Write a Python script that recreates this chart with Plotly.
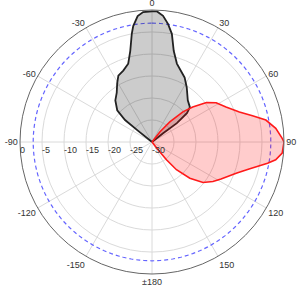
import plotly.graph_objects as go

# Black pattern (main lobe toward 0 deg)
black_theta = [-52, -51.3, -50.8, -47.6, -41.4, -35.5, -30.7, -26.9, -21.9, -16.9, -13.4,
               -10.6, -9.2, -6.5, -3.9, 0, 2.2, 5.0, 7.7, 10.4, 13.4, 17.6, 23.2, 26.9,
               32.5, 40.6, 47.4, 50.4, 52.8, 52.0, 51.0]
black_r = [-30, -25.7, -22.1, -19.3, -17.4, -16.2, -14.5, -13.1, -12.5, -11.4, -8.7,
           -5.0, -3.3, -1.2, -0.4, -0.3, -0.3, -1.2, -2.9, -5.0, -8.7, -11.3, -12.8, -13.6,
           -15.3, -17.5, -18.3, -19.7, -22.9, -26.8, -30]

# Red pattern (main lobe toward 90 deg)
red_theta = [35, 37.8, 41.6, 45.7, 49.3, 54.0, 58.5, 64.7, 71.0, 75.4, 79.1, 83.7, 88.4,
             90, 94.9, 98.2, 100.4, 105.6, 110.3, 118.2, 122.9, 128.4, 133.7, 138.6,
             140.8, 141.8, 143]
red_r = [-30, -27.1, -23.9, -20.2, -17.8, -14.7, -12.9, -11.4, -9.0, -6.4, -3.65, -1.7, -0.4,
         0, -0.3, -1.6, -3.3, -7.1, -9.6, -12.2, -13.5, -15.2, -18.1, -21.6,
         -24.8, -27.7, -30]

# -3 dB reference circle
ref_theta = list(range(0, 361, 2))
ref_level = -3

angle_ticks = [0, 30, 60, 90, 120, 150, 180, 210, 240, 270, 300, 330]
angle_labels = ["0", "30", "60", "90", "120", "150", "±180", "-150", "-120", "-90", "-60", "-30"]
radial_ticks = [-30, -25, -20, -15, -10, -5, 0]
radial_labels = ["-30", "-25", "-20", "-15", "-10", "-5", "0"]

fig = go.Figure()
fig.add_trace(go.Scatterpolar(
    theta=ref_theta, r=[ref_level] * len(ref_theta), mode="lines",
    line=dict(color="#6464ff", width=1.2, dash="4px,3px"), hoverinfo="skip"))
fig.add_trace(go.Scatterpolar(
    theta=black_theta, r=black_r, mode="lines", fill="toself",
    fillcolor="rgba(0,0,0,0.2)", line=dict(color="#222222", width=1.8)))
fig.add_trace(go.Scatterpolar(
    theta=red_theta, r=red_r, mode="lines", fill="toself",
    fillcolor="rgba(255,0,0,0.2)", line=dict(color="#ff1a1a", width=1.6)))

fig.update_layout(
    width=300, height=286,
    margin=dict(l=20, r=16, t=10, b=12),
    paper_bgcolor="white",
    showlegend=False,
    font=dict(family="Liberation Sans, Arial, sans-serif", size=9, color="#333333"),
    polar=dict(
        bgcolor="white",
        angularaxis=dict(
            rotation=90, direction="clockwise",
            tickmode="array", tickvals=angle_ticks, ticktext=angle_labels,
            ticks="", ticklen=0, showline=True, linecolor="#666666", linewidth=1,
            gridcolor="#dadada", gridwidth=1, tickfont=dict(size=9),
        ),
        radialaxis=dict(
            range=[-30, 0], angle=180, side="counterclockwise",
            tickmode="array", tickvals=radial_ticks, ticktext=radial_labels,
            ticks="", showline=False, gridcolor="#dadada", gridwidth=1,
            tickangle=180, tickfont=dict(size=9),
        ),
    ),
)

fig.write_html("out.html")
